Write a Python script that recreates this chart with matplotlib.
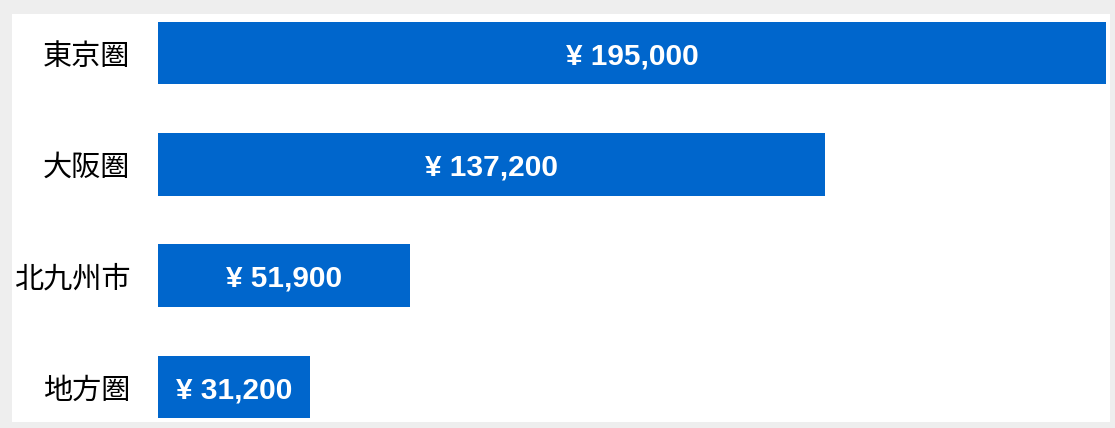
import matplotlib.pyplot as plt
from matplotlib.patches import Rectangle

regions = ['東京圏', '大阪圏', '北九州市', '地方圏']
amounts = [195000, 137200, 51900, 31200]

plt.rcParams['font.family'] = ['Noto Sans CJK JP', 'DejaVu Sans']

fig = plt.figure(figsize=(11.15, 4.28), dpi=100, facecolor='#eeeeee')
# white panel inside the gray frame, kept under the axes
fig.add_artist(Rectangle((12/1115, 6/428), 1098/1115, 408/428,
                         transform=fig.transFigure, facecolor='white',
                         edgecolor='none', zorder=-10))

ax = fig.add_axes([158/1115, 10/428, 948/1115, 396/428])
ax.set_facecolor('none')
ax.set_zorder(1)
pos = list(range(len(regions)))
bars = ax.barh(pos, amounts, height=0.56, color='#0066cc')

for b, v in zip(bars, amounts):
    ax.text(b.get_x() + b.get_width()/2, b.get_y() + b.get_height()/2 + 0.03,
            f'¥ {v:,}', ha='center', va='center', color='white',
            fontsize=21.5, fontweight='bold', family=['Liberation Sans', 'DejaVu Sans'])

ax.set_xlim(0, 195000)
ax.set_ylim(3.28, -0.28)
ax.set_yticks(pos)
ax.set_yticklabels(regions, fontsize=21)
ax.tick_params(axis='y', length=0, pad=20)
ax.set_xticks([])
for s in ax.spines.values():
    s.set_visible(False)

fig.savefig('out.png', dpi=100, facecolor=fig.get_facecolor())
